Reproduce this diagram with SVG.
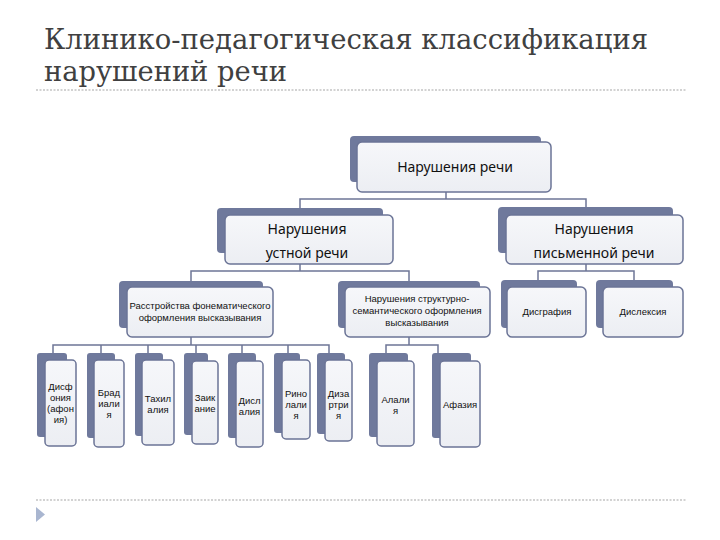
<svg xmlns="http://www.w3.org/2000/svg" width="720" height="540" viewBox="0 0 720 540">
<defs>
<linearGradient id="fg" x1="0" y1="0" x2="0" y2="1">
<stop offset="0" stop-color="#f6f7fa"/>
<stop offset="1" stop-color="#eceef3"/>
</linearGradient>
<style>
.bk{fill:#6f799c;}
.fr{fill:url(#fg);stroke:#6b7496;stroke-width:1.5;}
.t{font-family:"Noto Sans","Open Sans","DejaVu Sans",sans-serif;fill:#111;text-anchor:middle;}
.big{font-size:14px;}
.sm{font-family:"Liberation Sans","Noto Sans",sans-serif;font-size:9.5px;}
.cn{fill:none;stroke:#6e7696;stroke-width:1.5;}
.dot{stroke:#c4c4c4;stroke-width:1.5;stroke-dasharray:2 1.5;}
.title{font-family:"DejaVu Serif","Liberation Serif",serif;font-size:27px;fill:#404040;}
</style>
</defs>
<rect width="720" height="540" fill="#ffffff"/>
<text class="title" x="44" y="49" textLength="604" lengthAdjust="spacingAndGlyphs">Клинико-педагогическая классификация</text>
<text class="title" x="44" y="81" textLength="243" lengthAdjust="spacingAndGlyphs">нарушений речи</text>
<line class="dot" x1="36" y1="90" x2="686" y2="90"/>
<line class="dot" x1="36" y1="500" x2="686" y2="500"/>
<polygon points="36,507 45,514.5 36,522" fill="#a9b6d0"/>

<g id="connectors">
<path class="cn" d="M446,192V199M300,208V199H586V207"/>
<path class="cn" d="M300,264V271M191,281V271H409V281"/>
<path class="cn" d="M586,264V271M538,280V271H634V280"/>
<path class="cn" d="M191,337V345M53,353V345H329V353M101,345V353M148,345V353M196,345V353M242,345V353M288,345V353"/>
<path class="cn" d="M409,337V345M386,353V345H438V353"/>
</g>

<g id="n-root">
<rect class="bk" x="350" y="136" width="191" height="46" rx="4"/>
<rect class="fr" x="357" y="142" width="194" height="50" rx="5"/>
<text class="t big" x="455" y="172">Нарушения речи</text>
</g>

<g id="n-oral">
<rect class="bk" x="217" y="208" width="166" height="45" rx="4"/>
<rect class="fr" x="225" y="215" width="168" height="49" rx="5"/>
<text class="t big" x="307" y="234">Нарушения</text>
<text class="t big" x="307" y="258">устной речи</text>
</g>

<g id="n-written">
<rect class="bk" x="498" y="207" width="175" height="46" rx="4"/>
<rect class="fr" x="506" y="215" width="177" height="49" rx="5"/>
<text class="t big" x="594" y="234">Нарушения</text>
<text class="t big" x="594" y="258">письменной речи</text>
</g>

<g id="n-phon">
<rect class="bk" x="119" y="281" width="144" height="47" rx="4"/>
<rect class="fr" x="127" y="287" width="146" height="50" rx="5"/>
<text class="t sm" x="200" y="309">Расстройства фонематического</text>
<text class="t sm" x="200" y="321">оформления высказывания</text>
</g>

<g id="n-struct">
<rect class="bk" x="338" y="281" width="142" height="47" rx="4"/>
<rect class="fr" x="345" y="287" width="145" height="50" rx="5"/>
<text class="t sm" x="417" y="302">Нарушения структурно-</text>
<text class="t sm" x="417" y="314">семантического оформления</text>
<text class="t sm" x="417" y="326">высказывания</text>
</g>

<g id="n-disgr">
<rect class="bk" x="501" y="280" width="76" height="48" rx="4"/>
<rect class="fr" x="507" y="287" width="79" height="50" rx="5"/>
<text class="t sm" x="547" y="315">Дисграфия</text>
</g>

<g id="n-dislex">
<rect class="bk" x="596" y="280" width="77" height="48" rx="4"/>
<rect class="fr" x="603" y="287" width="80" height="50" rx="5"/>
<text class="t sm" x="643" y="315">Дислексия</text>
</g>

<g id="n-disf">
<rect class="bk" x="37" y="353" width="30" height="84" rx="3"/>
<rect class="fr" x="45" y="360" width="31" height="86" rx="4"/>
<text class="t sm" x="60.5" y="390">Дисф</text>
<text class="t sm" x="60.5" y="401">ония</text>
<text class="t sm" x="60.5" y="412">(афон</text>
<text class="t sm" x="60.5" y="423">ия)</text>
</g>

<g id="n-brad">
<rect class="bk" x="87" y="353" width="28" height="85" rx="3"/>
<rect class="fr" x="94" y="360" width="30" height="87" rx="4"/>
<text class="t sm" x="109" y="396">Брад</text>
<text class="t sm" x="109" y="407">иали</text>
<text class="t sm" x="109" y="418">я</text>
</g>

<g id="n-tahi">
<rect class="bk" x="135" y="353" width="28" height="83" rx="3"/>
<rect class="fr" x="142" y="360" width="32" height="85" rx="4"/>
<text class="t sm" x="158" y="402">Тахил</text>
<text class="t sm" x="158" y="413">алия</text>
</g>

<g id="n-zaik">
<rect class="bk" x="184" y="353" width="24" height="82" rx="3"/>
<rect class="fr" x="192" y="361" width="26" height="83" rx="4"/>
<text class="t sm" x="205" y="401">Заик</text>
<text class="t sm" x="205" y="412">ание</text>
</g>

<g id="n-disl">
<rect class="bk" x="228" y="353" width="28" height="85" rx="3"/>
<rect class="fr" x="236" y="361" width="27" height="86" rx="4"/>
<text class="t sm" x="249.5" y="404">Дисл</text>
<text class="t sm" x="249.5" y="415">алия</text>
</g>

<g id="n-rino">
<rect class="bk" x="274" y="353" width="26" height="80" rx="3"/>
<rect class="fr" x="282" y="360" width="28" height="79" rx="4"/>
<text class="t sm" x="296" y="397">Рино</text>
<text class="t sm" x="296" y="408">лали</text>
<text class="t sm" x="296" y="419">я</text>
</g>

<g id="n-diza">
<rect class="bk" x="317" y="353" width="28" height="81" rx="3"/>
<rect class="fr" x="325" y="360" width="27" height="81" rx="4"/>
<text class="t sm" x="338.5" y="397">Диза</text>
<text class="t sm" x="338.5" y="408">ртри</text>
<text class="t sm" x="338.5" y="419">я</text>
</g>

<g id="n-alal">
<rect class="bk" x="369" y="353" width="39" height="84" rx="3"/>
<rect class="fr" x="377" y="361" width="37" height="85" rx="4"/>
<text class="t sm" x="395.5" y="403">Алали</text>
<text class="t sm" x="395.5" y="414">я</text>
</g>

<g id="n-afaz">
<rect class="bk" x="432" y="353" width="39" height="85" rx="3"/>
<rect class="fr" x="440" y="361" width="40" height="86" rx="4"/>
<text class="t sm" x="460" y="408">Афазия</text>
</g>
</svg>
